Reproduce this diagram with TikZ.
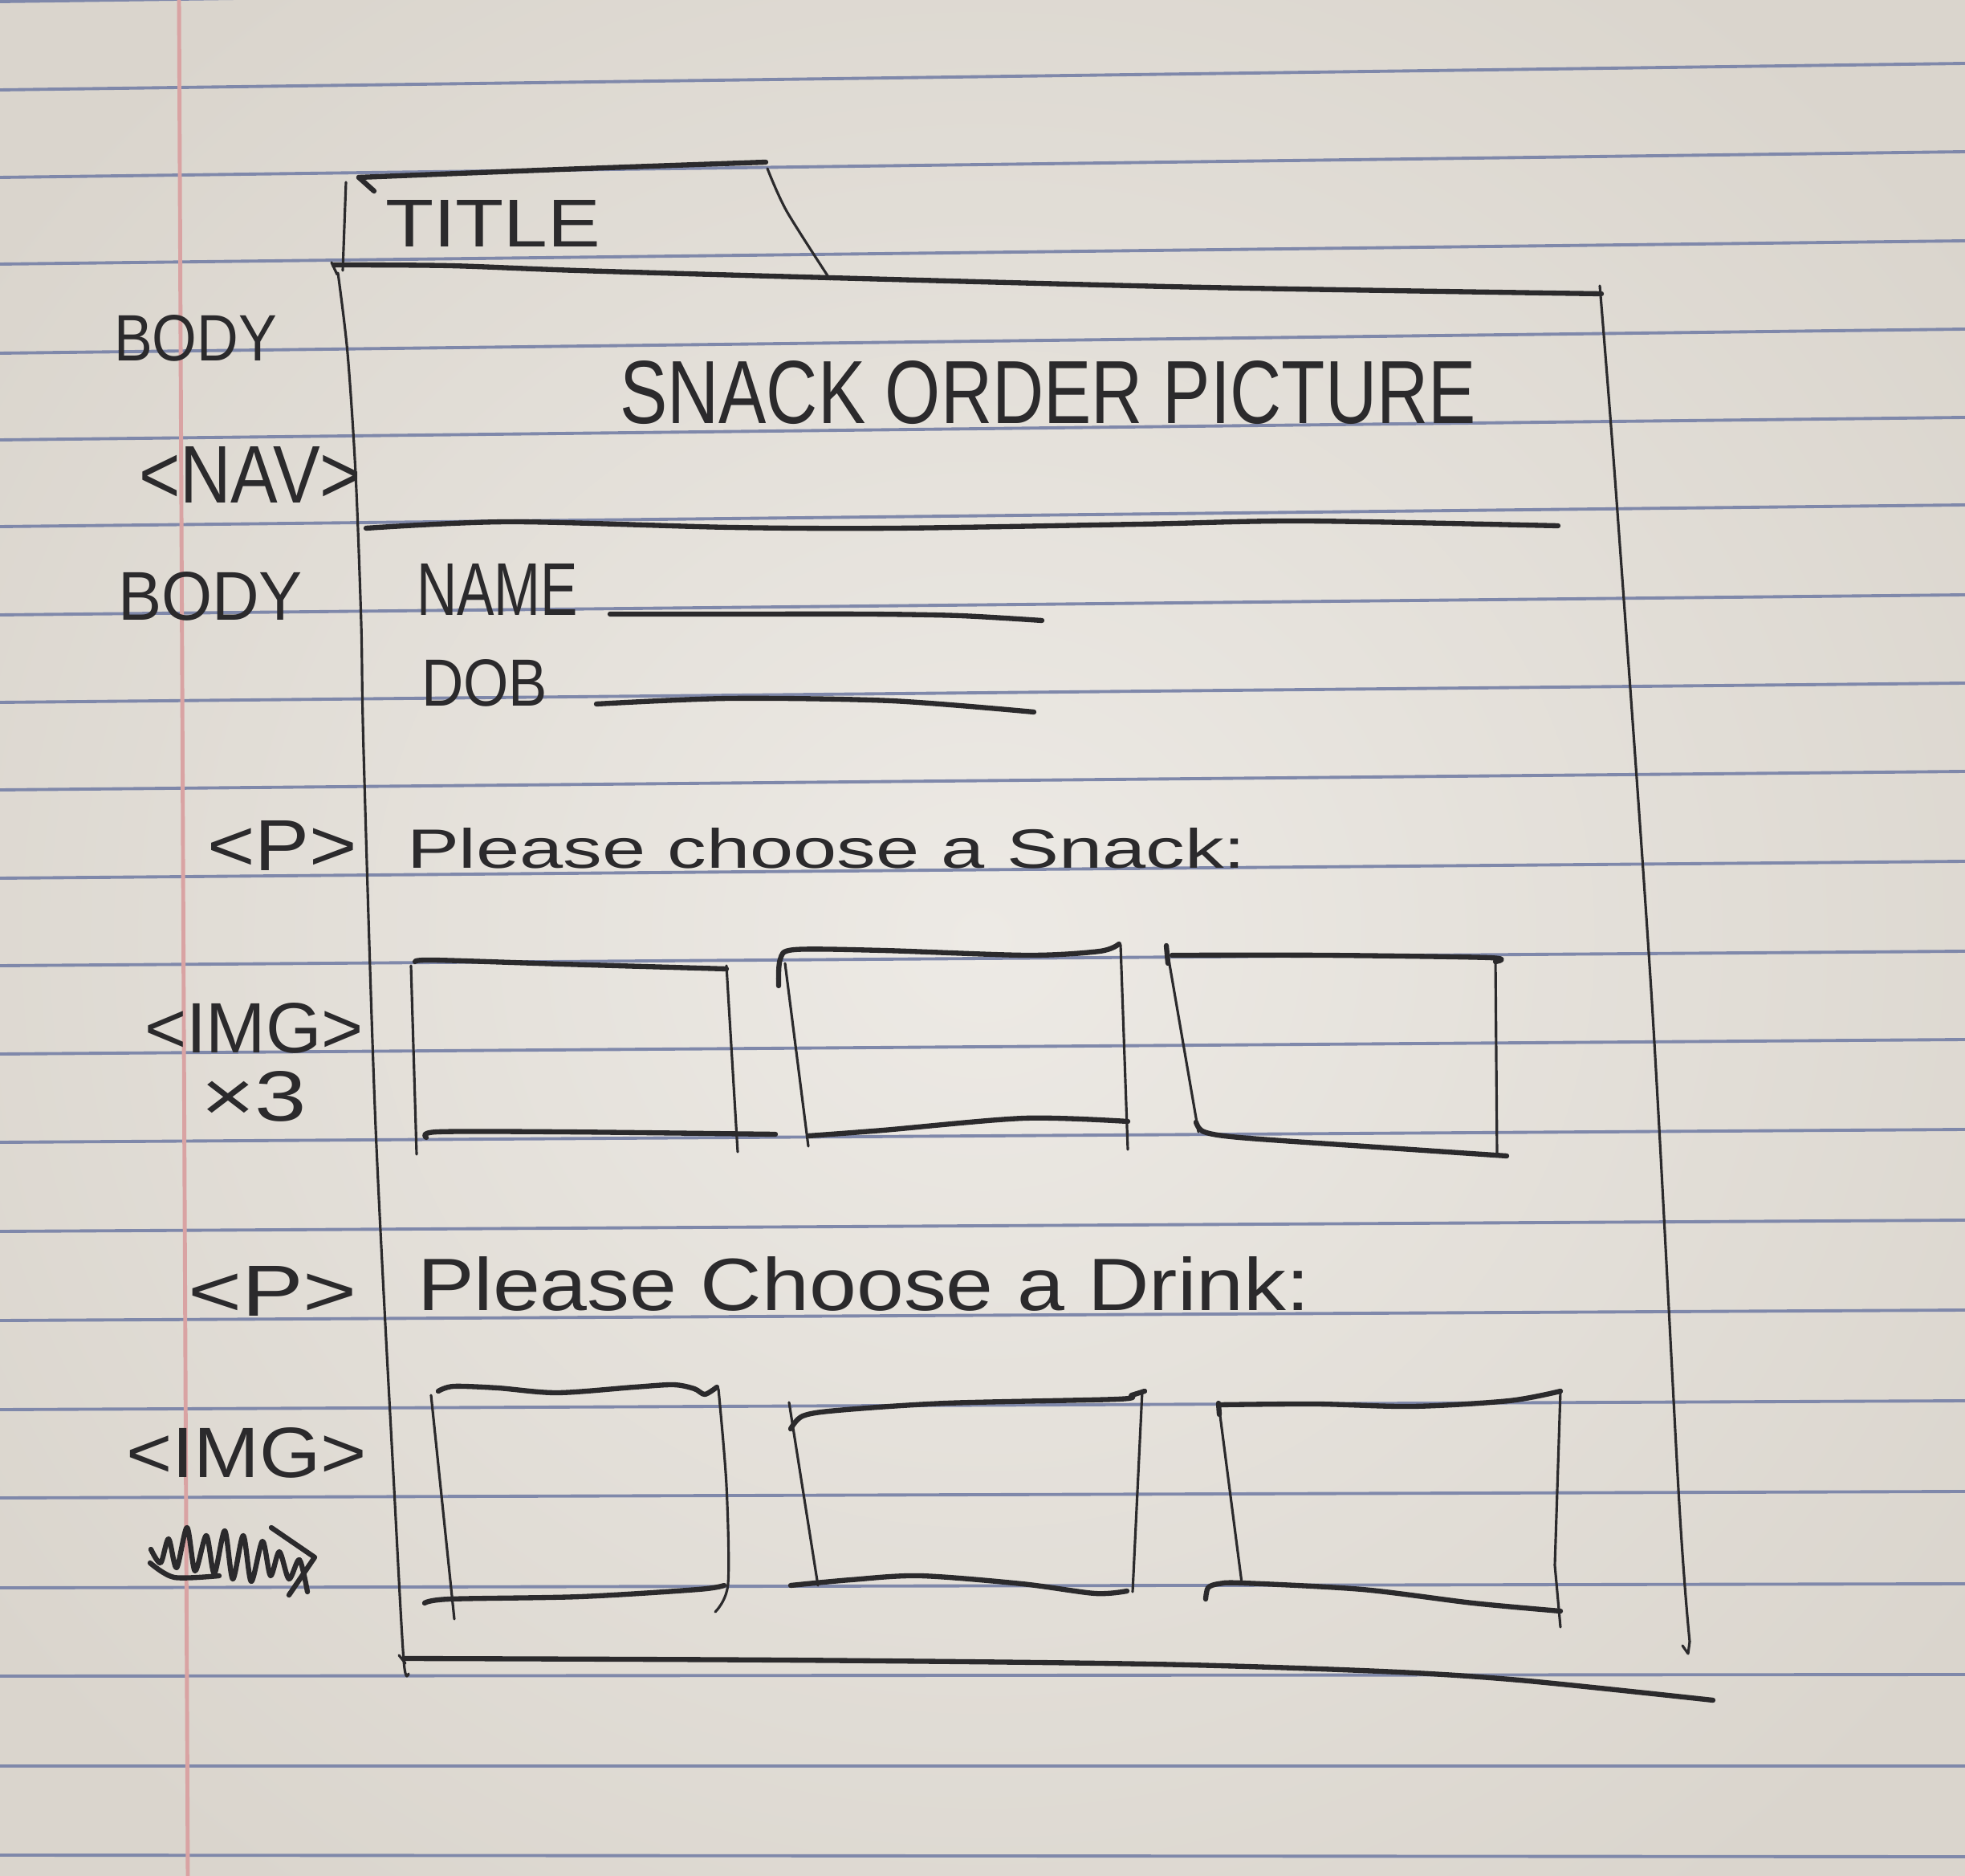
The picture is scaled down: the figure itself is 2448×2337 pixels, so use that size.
\documentclass[tikz,border=0pt]{standalone}
\usepackage{fontspec}
\setmainfont{Liberation Sans}
\usepackage{graphicx}
\newlength{\pxu}
\setlength{\pxu}{0.1mm}
% hand lettering squeezed into a given width and cap height
\newcommand{\hand}[3]{\resizebox{#1\pxu}{#2\pxu}{#3}}
\definecolor{paperin}{HTML}{EDEAE5}
\definecolor{paperout}{HTML}{DAD5CD}
\definecolor{rulecol}{HTML}{7F88AA}
\definecolor{margincol}{HTML}{D9A3A3}
\definecolor{ink}{HTML}{2B2A2C}
\begin{document}
\begin{tikzpicture}[x=0.1mm,y=-0.1mm,
  rule/.style={draw=rulecol,line width=1.1pt},
  margin/.style={draw=margincol,line width=1.4pt},
  pen/.style={draw=ink,line width=0.9pt,line cap=round,line join=round},
  penb/.style={draw=ink,line width=1.8pt,line cap=round,line join=round},
  txt/.style={inner sep=0pt,outer sep=0pt,text=ink,anchor=base west}]
\useasboundingbox (0,0) rectangle (2448,2337);
\clip (0,0) rectangle (2448,2337);

% ruled paper
\shade[shading=radial,inner color=paperin,outer color=paperout] (-300,-300) rectangle (2748,2637);
\foreach \l/\r in {2/-31,112/79,221/189,329/300,440/410,548/520,656/629,766/741,875/851,
                   984/961,1094/1073,1203/1185,1313/1295,1423/1407,1534/1520,1645/1632,
                   1756/1745,1866/1858,1978/1973,2088/2086,2200/2200,2311/2313}
  \draw[rule] (0,\l) -- (2448,\r);
\draw[margin] (223,0) -- (234,2337);

% title tab
\draw[pen] (431,227) -- (427,337);
\draw[penb] (466,238) -- (447,221);
\draw[penb] plot[smooth] coordinates {(447,221) (700,211) (954,202)};
\draw[pen] plot[smooth] coordinates {(956,210) (980,263) (1034,348)};
\draw[pen] (413,327) -- (420,342);

% page outline
\draw[penb] plot[smooth] coordinates {(416,330) (560,331) (720,337) (1034,346) (1500,358) (1995,366)};
\draw[pen] plot[smooth] coordinates {(421,340) (433,440) (443,590) (450,777) (453,937) (468,1405) (492,1873) (503,2069) (509,2085)};
\draw[pen] plot[smooth] coordinates {(1993,356) (2014,624) (2058,1249) (2092,1873) (2105,2045)};
\draw[pen] (2105,2045) -- (2103,2060) -- (2096,2050);
\draw[penb] plot[smooth] coordinates {(503,2066) (974,2068) (1433,2073) (1720,2082) (1893,2093) (2134,2118)};
\draw[pen] (497,2062) -- (505,2072);

% navigation bar rule
\draw[penb] plot[smooth] coordinates {(456,658) (635,650) (910,657) (1114,658) (1420,653) (1624,649) (1941,655)};

% form fields
\draw[penb] plot[smooth] coordinates {(760,765) (909,765) (1081,765) (1196,767) (1298,773)};
\draw[penb] plot[smooth] coordinates {(743,877) (909,870) (1110,873) (1288,887)};

% snack pictures
\draw[pen] (512,1203) -- (519,1438);
\draw[penb] plot[smooth] coordinates {(517,1198) (540,1196) (700,1201) (905,1207)};
\draw[pen] (905,1203) -- (919,1435);
\draw[penb] plot[smooth] coordinates {(531,1417) (545,1410) (700,1410) (966,1413)};

\draw[penb] plot[smooth] coordinates {(970,1228) (972,1195) (990,1183) (1100,1184) (1280,1190) (1370,1185) (1394,1176)};
\draw[pen] (978,1200) -- (1007,1428);
\draw[pen] (1396,1177) -- (1405,1432);
\draw[penb] plot[smooth] coordinates {(1007,1415) (1100,1408) (1276,1393) (1405,1397)};

\draw[pen] (1453,1178) -- (1493,1410);
\draw[penb] (1453,1178) -- (1455,1200);
\draw[penb] plot[smooth] coordinates {(1460,1190) (1650,1190) (1855,1193) (1863,1198)};
\draw[pen] (1863,1193) -- (1865,1438);
\draw[penb] plot[smooth] coordinates {(1490,1398) (1500,1410) (1544,1417) (1700,1428) (1877,1440)};

% drink pictures
\draw[penb] plot[smooth] coordinates {(546,1733) (565,1727) (620,1729) (694,1735) (790,1728) (839,1725) (865,1730) (878,1737) (893,1728)};
\draw[pen] (537,1738) -- (566,2017);
\draw[pen] plot[smooth] coordinates {(895,1730) (905,1850) (907,1973) (891,2008)};
\draw[penb] plot[smooth] coordinates {(529,1997) (560,1992) (723,1989) (870,1980) (902,1975)};

\draw[pen] (983,1747) -- (1019,1975);
\draw[penb] plot[smooth] coordinates {(985,1780) (1000,1764) (1043,1757) (1179,1748) (1392,1743) (1410,1738) (1426,1733)};
\draw[pen] (1423,1733) -- (1411,1983);
\draw[penb] plot[smooth] coordinates {(985,1975) (1060,1968) (1146,1963) (1273,1973) (1364,1985) (1404,1982)};

\draw[pen] (1518,1748) -- (1547,1972);
\draw[penb] (1518,1748) -- (1519,1762);
\draw[penb] plot[smooth] coordinates {(1518,1750) (1640,1749) (1760,1752) (1880,1745) (1944,1733)};
\draw[pen] (1944,1733) -- (1937,1950) -- (1944,2027);
\draw[penb] plot[smooth] coordinates {(1502,1992) (1505,1978) (1518,1973) (1548,1972) (1697,1980) (1835,1997) (1944,2007)};

% crossed-out note under the second image label
\draw[penb] plot[smooth] coordinates {(188,1930) (200,1947) (210,1917) (220,1953) (233,1903) (243,1957) (257,1913) (267,1960) (280,1907) (290,1967) (303,1913) (313,1970) (327,1920) (337,1963) (348,1933) (360,1967) (373,1943) (383,1983)};
\draw[penb] (338,1903) -- (392,1940) -- (360,1987);
\draw[penb] plot[smooth] coordinates {(187,1947) (217,1965) (273,1963)};

% lettering
\node[txt] (title) at (480,308) {\hand{268}{58}{TITLE}};
\node[txt] (heading) at (772,528) {\hand{1067}{78}{SNACK ORDER PICTURE}};
\node[txt] (bodyA) at (142,450) {\hand{203}{57}{BODY}};
\node[txt] (nav) at (173,627) {\hand{277}{70}{<NAV>}};
\node[txt] (bodyB) at (147,773) {\hand{230}{60}{BODY}};
\node[txt] (name) at (519,767) {\hand{201}{64}{NAME}};
\node[txt] (dob) at (525,880) {\hand{157}{58}{DOB}};
\node[txt] (pA) at (258,1085) {\hand{187}{62}{<P>}};
\node[txt] (snack) at (507,1082) {\hand{1045}{50}{Please choose a Snack:}};
\node[txt] (imgA) at (180,1311) {\hand{273}{62}{<IMG>}};
\node[txt] (times) at (250,1397) {\hand{132}{62}{×3}};
\node[txt] (pB) at (234,1639) {\hand{211}{62}{<P>}};
\node[txt] (drink) at (520,1632) {\hand{1112}{67}{Please Choose a Drink:}};
\node[txt] (imgB) at (157,1840) {\hand{300}{62}{<IMG>}};
\end{tikzpicture}
\end{document}
